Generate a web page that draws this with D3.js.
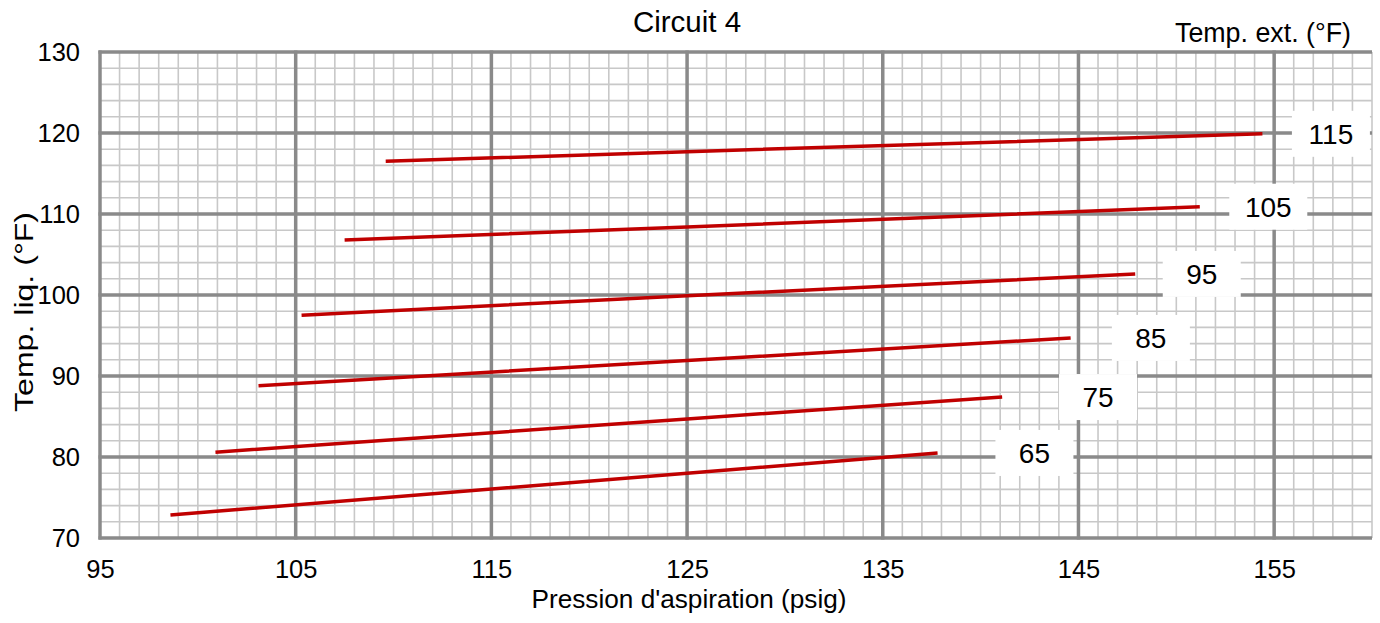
<!DOCTYPE html>
<html>
<head>
<meta charset="utf-8">
<script src="https://cdn.jsdelivr.net/npm/d3@7"></script>
<style>
  body { margin: 0; background: #fff; }
  svg text { font-family: "Liberation Sans", Arial, sans-serif; fill: #000; }
</style>
</head>
<body>
<svg id="chart" width="1380" height="623"></svg>
<script>
const svg = d3.select("#chart");
const margin = { top: 52, right: 8, bottom: 85, left: 100 };
const iw = 1380 - margin.left - margin.right;
const ih = 623 - margin.top - margin.bottom;

// series: outdoor temp (°F) -> points [suction pressure psig, liquid temp °F]
const extTemps = [65, 75, 85, 95, 105, 115];
const pressPts = [
  [98.6, 125, 137.8],
  [100.9, 125, 141.1],
  [103.1, 125, 144.6],
  [105.3, 125, 147.9],
  [107.5, 125, 151.2],
  [109.6, 125, 154.4]
];
const liqPts = [
  [72.85, 78.0, 80.5],
  [80.6, 84.7, 87.4],
  [88.8, 91.9, 94.7],
  [97.5, 99.9, 102.6],
  [106.8, 108.4, 110.9],
  [116.5, 117.7, 119.9]
];
// label centre positions along the pressure axis
const labelPress = [142.75, 146.0, 148.7, 151.3, 154.7, 157.9];

const xTicks = [95, 105, 115, 125, 135, 145, 155];
const yTicks = [70, 80, 90, 100, 110, 120, 130];

const x = d3.scaleLinear().domain([95, 160]).range([0, iw]);
const y = d3.scaleLinear().domain([70, 130]).range([ih, 0]);

const g = svg.append("g").attr("transform", `translate(${margin.left},${margin.top})`);

// minor grid
const minorX = d3.range(96, 161, 1).filter(v => (v - 95) % 10 !== 0);
const minorY = d3.range(72, 130, 2).filter(v => v % 10 !== 0);
g.append("g").selectAll("line").data(minorX).join("line")
  .attr("x1", d => x(d)).attr("x2", d => x(d))
  .attr("y1", 0).attr("y2", ih)
  .attr("stroke", "#c8c8c8").attr("stroke-width", 1.6);
g.append("g").selectAll("line").data(minorY).join("line")
  .attr("y1", d => y(d)).attr("y2", d => y(d))
  .attr("x1", 0).attr("x2", iw)
  .attr("stroke", "#c8c8c8").attr("stroke-width", 1.6);

// major grid
g.append("g").selectAll("line").data(yTicks).join("line")
  .attr("y1", d => y(d)).attr("y2", d => y(d))
  .attr("x1", -1.5).attr("x2", iw)
  .attr("stroke", "#8a8a8a").attr("stroke-width", 3.5);
g.append("g").selectAll("line").data(xTicks).join("line")
  .attr("x1", d => x(d)).attr("x2", d => x(d))
  .attr("y1", -1.5).attr("y2", ih + 1.5)
  .attr("stroke", "#8a8a8a").attr("stroke-width", 3.5);

// axes (labels only)
const xAxis = g.append("g")
  .attr("transform", `translate(0,${ih})`)
  .call(d3.axisBottom(x).tickValues(xTicks).tickSize(0).tickPadding(22));
const yAxis = g.append("g")
  .call(d3.axisLeft(y).tickValues(yTicks).tickSize(0).tickPadding(20));
[xAxis, yAxis].forEach(a => {
  a.select(".domain").remove();
  a.selectAll("text").attr("font-size", 25.5).attr("fill", "#000")
    .style("font-family", "'Liberation Sans', Arial, sans-serif");
});

// series lines
const line = d3.line().x(d => x(d[0])).y(d => y(d[1]));
const series = extTemps.map((t, i) => ({
  t,
  pts: pressPts[i].map((p, j) => [p, liqPts[i][j]]),
  lx: labelPress[i]
}));

g.append("g").selectAll("path").data(series).join("path")
  .attr("d", d => line(d.pts))
  .attr("fill", "none")
  .attr("stroke", "#c00000")
  .attr("stroke-width", 3.5);

// data labels with white boxes
const lab = g.append("g").selectAll("g").data(series).join("g")
  .attr("transform", d => `translate(${x(d.lx)},${y(d.pts[d.pts.length - 1][1])})`);
lab.append("rect")
  .attr("x", -39).attr("y", -23).attr("width", 78).attr("height", 46)
  .attr("fill", "#fff");
lab.append("text")
  .attr("text-anchor", "middle")
  .attr("dy", "0.36em")
  .attr("font-size", 28)
  .text(d => d.t);

// titles
svg.append("text")
  .attr("x", 687).attr("y", 32)
  .attr("text-anchor", "middle")
  .attr("font-size", 29.5)
  .text("Circuit 4");

svg.append("text")
  .attr("x", 1351).attr("y", 42)
  .attr("text-anchor", "end")
  .attr("font-size", 26.8)
  .text("Temp. ext. (°F)");

svg.append("text")
  .attr("x", 689).attr("y", 608)
  .attr("text-anchor", "middle")
  .attr("font-size", 26.2)
  .text("Pression d'aspiration (psig)");

svg.append("text")
  .attr("transform", "translate(33,312) rotate(-90)")
  .attr("text-anchor", "middle")
  .attr("font-size", 25)
  .attr("textLength", 200)
  .attr("lengthAdjust", "spacingAndGlyphs")
  .text("Temp. liq. (°F)");
</script>
</body>
</html>
